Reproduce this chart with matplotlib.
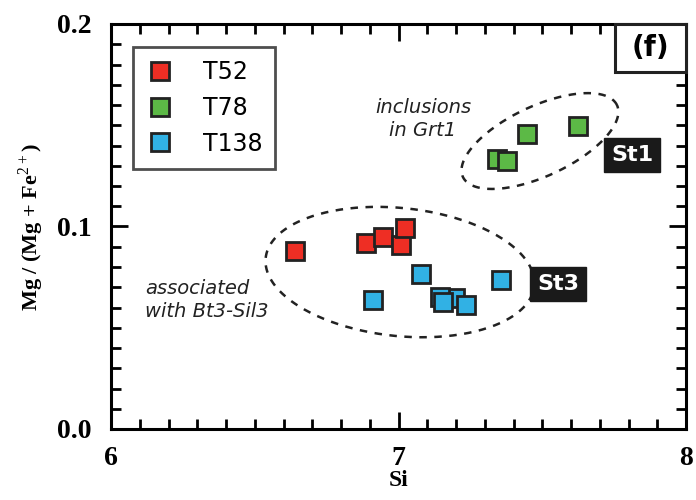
import matplotlib
matplotlib.use("Agg")
import matplotlib.pyplot as plt
import numpy as np
from matplotlib.ticker import MultipleLocator
from matplotlib.patches import Rectangle

plt.rcParams['mathtext.fontset'] = 'custom'
plt.rcParams['mathtext.rm'] = 'Liberation Serif'
plt.rcParams['mathtext.bf'] = 'Liberation Serif:bold'

# Si vs Mg/(Mg+Fe2+) for staurolite from three samples
t52_si = [6.64, 6.887, 6.946, 7.009, 7.023]
t52_mg = [0.088, 0.092, 0.095, 0.091, 0.0995]
t78_si = [7.343, 7.377, 7.447, 7.624]
t78_mg = [0.1333, 0.1323, 0.1457, 0.1496]
t138_si = [6.911, 7.078, 7.197, 7.144, 7.155, 7.235, 7.357]
t138_mg = [0.0637, 0.0765, 0.0647, 0.0650, 0.0627, 0.0612, 0.0736]

fig = plt.figure(figsize=(6.96, 5.0), dpi=100)
ax = fig.add_axes([111/696, 1-429/500, 575/696, 405/500])
ax.set_xlim(6, 8)
ax.set_ylim(0, 0.2)

# px -> data scale factors for drawing the dashed outlines
sx = 2.0/575
sy = 0.2/405

def outline(cx, cy, a, b, ang):
    t = np.linspace(0, 2*np.pi, 300)
    th = np.radians(ang)
    u = a*np.cos(t)*np.cos(th) - b*np.sin(t)*np.sin(th)
    v = a*np.cos(t)*np.sin(th) + b*np.sin(t)*np.cos(th)
    ax.plot(cx + u*sx, cy + v*sy, ls=(0, (3, 3)), color='#222222', lw=1.8, zorder=1)

outline(7.005, 0.0775, 135, 64, -6)
outline(7.492, 0.1422, 85, 35, 25)

kw = dict(marker='s', ls='none', ms=13, mec='#222222', mew=2, zorder=3)
ax.plot(t52_si, t52_mg, mfc='#ee2e24', label='T52', **kw)
ax.plot(t78_si, t78_mg, mfc='#5cb946', label='T78', **kw)
ax.plot(t138_si, t138_mg, mfc='#31b1e4', label='T138', **kw)

leg = ax.legend(loc='upper left', bbox_to_anchor=(0.038, 0.943),
                frameon=True, fancybox=False, markerscale=0.95,
                handlelength=1.2, handletextpad=1.2, borderpad=0.55,
                labelspacing=0.5, borderaxespad=0,
                prop={'family': 'DejaVu Sans', 'size': 17})
leg.get_frame().set_edgecolor('#222222')
leg.get_frame().set_linewidth(2)

ax.text(7.085, 0.153, 'inclusions\nin Grt1', style='italic', fontsize=14,
        ha='center', va='center', color='#222222', linespacing=1.25)
ax.text(6.118, 0.0637, 'associated\nwith Bt3-Sil3', style='italic', fontsize=14,
        ha='left', va='center', color='#222222', linespacing=1.25)

box = dict(boxstyle='square,pad=0.3', fc='#1a1a1a', ec='#1a1a1a')
ax.text(7.812, 0.1353, 'St1', color='white', fontsize=16, fontweight='bold',
        ha='center', va='center', bbox=box)
ax.text(7.555, 0.0716, 'St3', color='white', fontsize=16, fontweight='bold',
        ha='center', va='center', bbox=box)

# panel letter box tucked into the top right corner
ax.add_patch(Rectangle((0.8765, 0.8815), 0.1235, 0.1185, transform=ax.transAxes,
                       fc='white', ec='#222222', lw=2.2, zorder=4, clip_on=False))
ax.text(0.938, 0.941, '(f)', transform=ax.transAxes, fontsize=20, fontweight='bold',
        ha='center', va='center', zorder=5)

for s in ax.spines.values():
    s.set_linewidth(2.2)
ax.xaxis.set_major_locator(MultipleLocator(1))
ax.xaxis.set_minor_locator(MultipleLocator(0.1))
ax.yaxis.set_major_locator(MultipleLocator(0.1))
ax.yaxis.set_minor_locator(MultipleLocator(0.01))
ax.tick_params(which='both', direction='in', top=True, right=True, width=2)
ax.tick_params(which='major', length=12)
ax.tick_params(which='minor', length=7)
ax.tick_params(axis='x', which='major', pad=12)
ax.tick_params(axis='y', which='major', pad=14)
ax.set_yticks([0, 0.1, 0.2])
ax.set_yticklabels(['0.0', '0.1', '0.2'])
ax.set_xticks([6, 7, 8])
for lab in ax.get_xticklabels() + ax.get_yticklabels():
    lab.set_family('Liberation Serif')
    lab.set_fontweight('bold')
    lab.set_fontsize(20)

ax.set_xlabel('Si', family='Liberation Serif', fontweight='bold', fontsize=17)
ax.xaxis.set_label_coords(0.5, -0.1)
ax.set_ylabel(r'Mg / (Mg + Fe$^{\mathrm{2+}}$)', family='Liberation Serif',
              fontweight='bold', fontsize=16, labelpad=8)

fig.savefig('out.png', dpi=100)
